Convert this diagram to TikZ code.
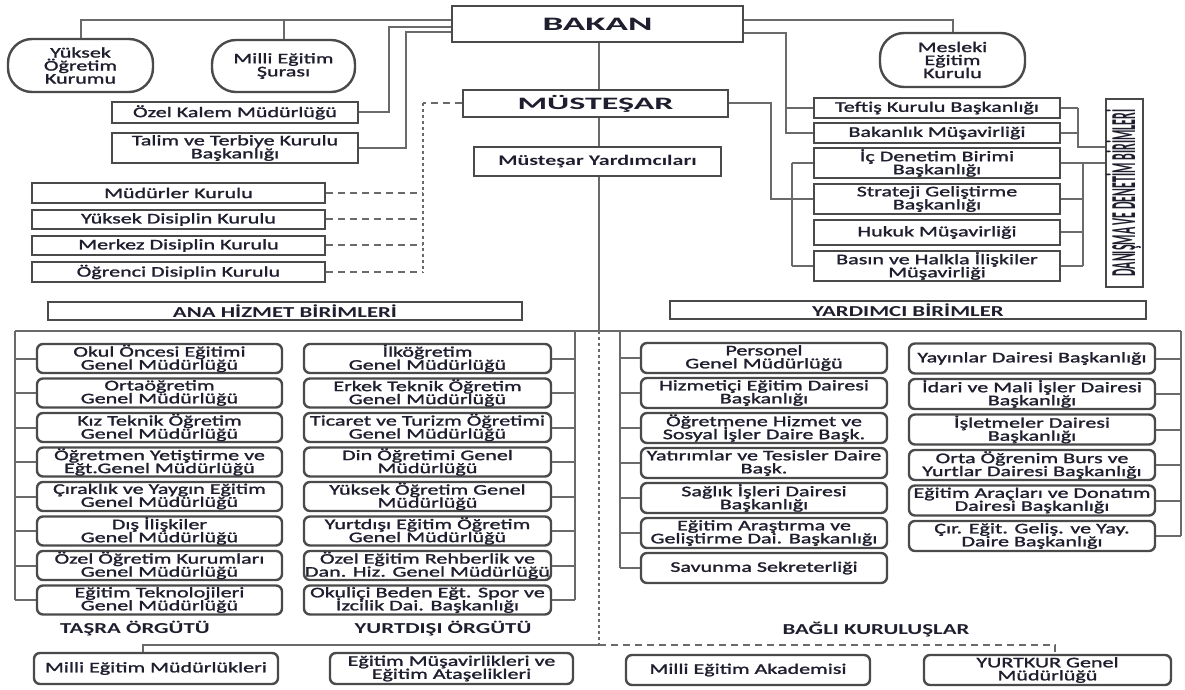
\documentclass[tikz,border=0pt]{standalone}
\usepackage{fontspec}
\setmainfont{Carlito}[FakeStretch=1.5, UprightFeatures={FakeBold=1.5}]
\newfontfamily\hdfont{Carlito}[FakeStretch=1.95]
\newfontfamily\rotfont{Carlito}[FakeStretch=0.34]
\usetikzlibrary{calc}
\definecolor{txt}{HTML}{1E1E2E}
\definecolor{bord}{HTML}{4A4A4A}
\definecolor{lin}{HTML}{6A6A6A}
\newcommand\normtxt{\fontsize{7.35}{6.5}\selectfont\lineskiplimit=-20pt\relax}
\newcommand\hdrbold{\fontsize{7.6}{7}\selectfont\bfseries}
\tikzset{
  every node/.style={text=txt},
  sqbox/.style={draw=bord, line width=1.2pt, fill=white, inner sep=0pt, align=center, font=\normtxt},
  rndbox/.style={sqbox, rounded corners=3pt},
  ovalbox/.style={sqbox, rounded corners=12pt},
  conn/.style={draw=lin, line width=1pt},
  dashconn/.style={conn, dash pattern=on 3.5pt off 2.5pt},
  dotconn/.style={conn, dash pattern=on 1.5pt off 1.5pt},
  lbl/.style={font=\hdrbold, inner sep=0pt},
}
\newcommand\mkbox[7]{\node[#6, minimum width={(#4-#2)*0.5pt}, minimum height={(#5-#3)*0.5pt}] (#1) at ({(#2+#4)/2},{(#3+#5)/2}) {#7};}
\begin{document}
\begin{tikzpicture}[x=0.5pt,y=-0.5pt]
\useasboundingbox (0,0) rectangle (1185,690);
% ---------- top ----------
\mkbox{bakan}{452}{6}{743}{42}{sqbox,font=\hdfont\bfseries\fontsize{9.5}{10}\selectfont}{BAKAN}
\mkbox{must}{463}{90}{728}{117}{sqbox,font=\hdfont\bfseries\fontsize{8.7}{9}\selectfont}{MÜSTEŞAR}
\mkbox{yard}{474}{147}{721}{176}{sqbox,font=\fontsize{7.35}{7}\selectfont\bfseries}{Müsteşar Yardımcıları}
\mkbox{yok}{8}{39}{153}{92}{ovalbox}{Yüksek\\Öğretim\\Kurumu}
\mkbox{sura}{212}{40}{355}{92}{ovalbox}{Milli Eğitim\\Şurası}
\mkbox{mesl}{880}{33}{1025}{87}{ovalbox}{Mesleki\\Eğitim\\Kurulu}
\mkbox{ozel}{112}{102}{358}{123}{sqbox}{Özel Kalem Müdürlüğü}
\mkbox{talim}{112}{133}{358}{163}{sqbox}{Talim ve Terbiye Kurulu\\Başkanlığı}
\mkbox{teftis}{814}{98}{1060}{118}{sqbox}{Teftiş Kurulu Başkanlığı}
\mkbox{bmus}{814}{123}{1060}{143}{sqbox}{Bakanlık Müşavirliği}
\mkbox{icd}{814}{148}{1060}{178}{sqbox}{İç Denetim Birimi\\Başkanlığı}
\mkbox{strat}{814}{184}{1060}{214}{sqbox}{Strateji Geliştirme\\Başkanlığı}
\mkbox{hukuk}{814}{220}{1060}{245}{sqbox}{Hukuk Müşavirliği}
\mkbox{basin}{814}{251}{1060}{281}{sqbox}{Basın ve Halkla İlişkiler\\Müşavirliği}
\mkbox{danis}{1106}{99}{1143}{287}{sqbox}{}
\node[rotate=90, inner sep=0pt, font=\rotfont\bfseries\fontsize{17.5}{18}\selectfont] (danistxt) at ([xshift=-0.5pt]danis.center) {DANIŞMA VE DENETİM BİRİMLERİ};
\mkbox{mk}{32}{183}{325}{203}{sqbox}{Müdürler Kurulu}
\mkbox{ydk}{32}{210}{325}{229}{sqbox}{Yüksek Disiplin Kurulu}
\mkbox{mdk}{32}{236}{325}{255}{sqbox}{Merkez Disiplin Kurulu}
\mkbox{odk}{32}{262}{325}{282}{sqbox}{Öğrenci Disiplin Kurulu}
\mkbox{ana}{48}{302}{522}{320}{sqbox,font=\hdrbold}{ANA HİZMET BİRİMLERİ}
\mkbox{yrd}{670}{301}{1146}{319}{sqbox,font=\hdrbold}{YARDIMCI BİRİMLER}
% ---------- left column ----------
\mkbox{l1}{37}{344}{282}{373}{rndbox}{Okul Öncesi Eğitimi\\Genel Müdürlüğü}
\mkbox{l2}{37}{378.5}{282}{407.5}{rndbox}{Ortaöğretim\\Genel Müdürlüğü}
\mkbox{l3}{37}{413}{282}{442}{rndbox}{Kız Teknik Öğretim\\Genel Müdürlüğü}
\mkbox{l4}{37}{447.5}{282}{476.5}{rndbox}{Öğretmen Yetiştirme ve\\Eğt.Genel Müdürlüğü}
\mkbox{l5}{37}{482}{282}{511}{rndbox}{Çıraklık ve Yaygın Eğitim\\Genel Müdürlüğü}
\mkbox{l6}{37}{516.5}{282}{545.5}{rndbox}{Dış İlişkiler\\Genel Müdürlüğü}
\mkbox{l7}{37}{551}{282}{580}{rndbox}{Özel Öğretim Kurumları\\Genel Müdürlüğü}
\mkbox{l8}{37}{585.5}{282}{614.5}{rndbox}{Eğitim Teknolojileri\\Genel Müdürlüğü}
% ---------- middle column ----------
\mkbox{m1}{304}{344}{551}{373}{rndbox}{İlköğretim\\Genel Müdürlüğü}
\mkbox{m2}{304}{378.5}{551}{407.5}{rndbox}{Erkek Teknik Öğretim\\Genel Müdürlüğü}
\mkbox{m3}{304}{413}{551}{442}{rndbox}{Ticaret ve Turizm Öğretimi\\Genel Müdürlüğü}
\mkbox{m4}{304}{447.5}{551}{476.5}{rndbox}{Din Öğretimi Genel\\Müdürlüğü}
\mkbox{m5}{304}{482}{551}{511}{rndbox}{Yüksek Öğretim Genel\\Müdürlüğü}
\mkbox{m6}{304}{516.5}{551}{545.5}{rndbox}{Yurtdışı Eğitim Öğretim\\Genel Müdürlüğü}
\mkbox{m7}{304}{551}{551}{580}{rndbox}{Özel Eğitim Rehberlik ve\\Dan. Hiz. Genel Müdürlüğü}
\mkbox{m8}{304}{585.5}{551}{614.5}{rndbox}{Okuliçi Beden Eğt. Spor ve\\İzcilik Dai. Başkanlığı}
% ---------- third column ----------
\mkbox{r1}{641}{343}{887}{373}{rndbox}{Personel\\Genel Müdürlüğü}
\mkbox{r2}{641}{378}{887}{408}{rndbox}{Hizmetiçi Eğitim Dairesi\\Başkanlığı}
\mkbox{r3}{641}{413}{887}{443}{rndbox}{Öğretmene Hizmet ve\\Sosyal İşler Daire Başk.}
\mkbox{r4}{641}{448}{887}{478}{rndbox}{Yatırımlar ve Tesisler Daire\\Başk.}
\mkbox{r5}{641}{483}{887}{513}{rndbox}{Sağlık İşleri Dairesi\\Başkanlığı}
\mkbox{r6}{641}{518}{887}{548}{rndbox}{Eğitim Araştırma ve\\Geliştirme Dai. Başkanlığı}
\mkbox{r7}{641}{553}{887}{583}{rndbox}{Savunma Sekreterliği}
% ---------- fourth column ----------
\mkbox{s1}{909}{343.5}{1155}{373.5}{rndbox}{Yayınlar Dairesi Başkanlığı}
\mkbox{s2}{909}{379}{1155}{409}{rndbox}{İdari ve Mali İşler Dairesi\\Başkanlığı}
\mkbox{s3}{909}{414.5}{1155}{444.5}{rndbox}{İşletmeler Dairesi\\Başkanlığı}
\mkbox{s4}{909}{450}{1155}{480}{rndbox}{Orta Öğrenim Burs ve\\Yurtlar Dairesi Başkanlığı}
\mkbox{s5}{909}{485.5}{1155}{515.5}{rndbox}{Eğitim Araçları ve Donatım\\Dairesi Başkanlığı}
\mkbox{s6}{909}{521}{1155}{551}{rndbox}{Çır. Eğit. Geliş. ve Yay.\\Daire Başkanlığı}
% ---------- labels ----------
\node[lbl] (tasra) at (135,629) {TAŞRA ÖRGÜTÜ};
\node[lbl] (yurtdisi) at (443,629) {YURTDIŞI ÖRGÜTÜ};
\node[lbl] (bagli) at (876,630) {BAĞLI KURULUŞLAR};
% ---------- bottom ----------
\mkbox{mem}{34}{653}{278}{684}{rndbox}{Milli Eğitim Müdürlükleri}
\mkbox{emus}{330}{653}{573}{684}{rndbox}{Eğitim Müşavirlikleri ve\\Eğitim Ataşelikleri}
\mkbox{akad}{626}{655}{870}{685}{rndbox}{Milli Eğitim Akademisi}
\mkbox{ytk}{924}{655}{1171}{685}{rndbox}{YURTKUR Genel\\Müdürlüğü}
% ---------- connectors: top ----------
\coordinate (bL1) at ([yshift=2pt]bakan.west);
\coordinate (bL2) at ([yshift=-1.5pt]bakan.west);
\coordinate (bL3) at ([yshift=-4pt]bakan.west);
\coordinate (bR1) at ([yshift=2pt]bakan.east);
\coordinate (bR2) at ([yshift=-4.5pt]bakan.east);
\coordinate (cx) at (599,0);
\draw[conn] (bL1) -| (yok.north);
\draw[conn] (sura.north) -- (sura.north |- bL1);
\draw[conn] (bL2) -| ($(ozel.east)+(30,0)$) -- (ozel.east);
\draw[conn] (bL3) -| ($(talim.east)+(47,0)$) -- (talim.east);
\draw[conn] (bR1) -| (mesl.north);
\draw[conn] (bR2) -| ($(bmus.west)+(-27,0)$) -- (bmus.west);
\draw[conn] ($(teftis.west)+(-27,0)$) -- (teftis.west);
\draw[conn] (cx |- bakan.south) -- (cx |- must.north);
\draw[conn] (cx |- must.south) -- (cx |- yard.north);
\draw[conn] (must.east) -| ($(strat.west)+(-42,0)$) -- ($(strat.west)+(-21,0)$);
\draw[conn] ($(icd.west)+(-21,0)$) -- ($(basin.west)+(-21,0)$);
\foreach \b in {icd,strat,basin} \draw[conn] (\b.west) -- ++(-21,0);
% right bracket to DANISMA
\draw[conn] (teftis.east) -- ++(17,0) coordinate (t1);
\draw[conn] (bmus.east) -- ++(17,0) coordinate (t2);
\coordinate (t3) at ($(t2)+(0,14)$);
\draw[conn] (t1) -- (t3) -- (t3 -| danis.west);
\draw[conn] (icd.east) -- (icd.east -| danis.west);
\draw[conn] ($(icd.east)+(22,0)$) -- ($(basin.east)+(22,0)$);
\foreach \b in {strat,hukuk,basin} \draw[conn] (\b.east) -- ++(22,0);
% dashed councils
\coordinate (ml) at ($(must.west)+(-39,0)$);
\draw[dashconn] (must.west) -- (ml);
\draw[dotconn] (ml) -- (ml |- odk.east);
\foreach \b in {mk,ydk,mdk,odk} \draw[dashconn] (\b.east) -- (\b.east -| ml);
% ---------- connectors: lower ----------
\coordinate (hl) at (15,331);
\coordinate (hr) at (1181,331);
\coordinate (mr) at (575,331);
\coordinate (rl) at (620,331);
\coordinate (dy) at (0,645);
\draw[conn] (hl) -- (hr);
\draw[conn] (cx |- yard.south) -- (cx |- hl);
\draw[conn] (hl) -- (hl |- l8.west);
\foreach \i in {1,...,8} \draw[conn] (hl |- l\i.west) -- (l\i.west);
\draw[conn] (mr) -- (mr |- m8.east);
\foreach \i in {1,...,8} \draw[conn] (m\i.east) -- (mr |- m\i.east);
\draw[conn] (rl) -- (rl |- r7.west);
\foreach \i in {1,...,7} \draw[conn] (rl |- r\i.west) -- (r\i.west);
\draw[conn] (hr) -- (hr |- s6.east);
\foreach \i in {1,...,6} \draw[conn] (s\i.east) -- (hr |- s\i.east);
\coordinate (dj) at (cx |- dy);
\draw[dotconn] (cx |- hl) -- (dj);
\draw[conn] (dj) -| ($(mem.north)+(-13,0)$);
\draw[dashconn] (dj) -| ($(ytk.north)+(7.5,0)$);
\end{tikzpicture}
\end{document}
